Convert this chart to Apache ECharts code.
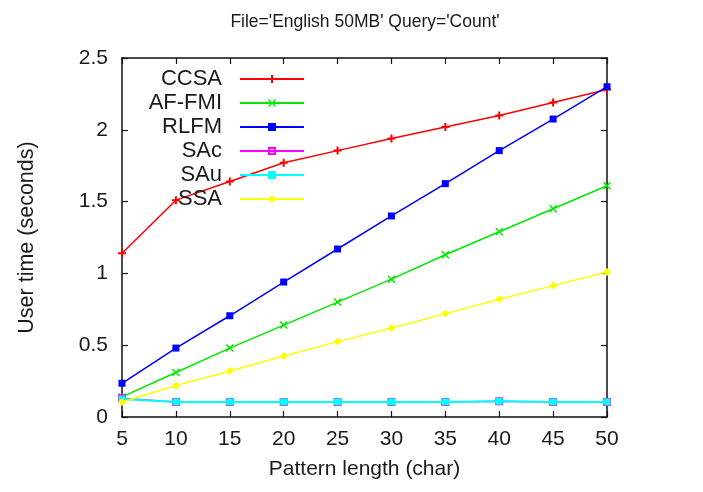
<!DOCTYPE html>
<html><head><meta charset="utf-8">
<script src="https://cdn.jsdelivr.net/npm/echarts@6/dist/echarts.min.js"></script>
<style>html,body{margin:0;padding:0;background:#fff}#c{width:703px;height:492px}</style>
</head><body><div id="c"></div>
<script>
const patternLengths = [5, 10, 15, 20, 25, 30, 35, 40, 45, 50];
const seriesNames = ['CCSA', 'AF-FMI', 'RLFM', 'SAc', 'SAu', 'SSA'];
const ccsa  = [1.14, 1.51, 1.64, 1.77, 1.855, 1.94, 2.02, 2.10, 2.19, 2.28];
const affmi = [0.14, 0.31, 0.48, 0.64, 0.80, 0.96, 1.13, 1.29, 1.45, 1.61];
const rlfm  = [0.235, 0.48, 0.705, 0.94, 1.17, 1.40, 1.625, 1.855, 2.075, 2.30];
const sac   = [0.13, 0.105, 0.105, 0.105, 0.105, 0.105, 0.105, 0.11, 0.105, 0.105];
const sau   = [0.125, 0.105, 0.105, 0.105, 0.105, 0.105, 0.105, 0.11, 0.105, 0.105];
const ssa   = [0.105, 0.22, 0.32, 0.425, 0.525, 0.62, 0.72, 0.82, 0.915, 1.01];
const yTicks = [0, 0.5, 1, 1.5, 2, 2.5];

const values = [ccsa, affmi, rlfm, sac, sau, ssa];
const colors = ['#ff0000', '#00e800', '#0000ff', '#ff00ff', '#00ffff', '#ffff00'];
const widths = [1.5, 1.5, 1.5, 1.5, 2, 1.5];
const plusPath = 'path://M3,0h2v3h3v2h-3v3h-2v-3h-3v-2h3z';
const crossPath = 'path://M1,0L4,3L7,0L8,1L5,4L8,7L7,8L4,5L1,8L0,7L3,4L0,1z';
const hollowSquare = 'path://M0,0H8V8H0Z M2,2V6H6V2Z';
const symbols = [plusPath, crossPath, 'rect', hollowSquare, 'rect', 'diamond'];
const sizes = [8, 8, 7, 8, 7, 8];

const chart = echarts.init(document.getElementById('c'));
const font = 'Liberation Sans, Arial, sans-serif';
const txt = '#1a1a1a';
const axisCommon = {
  axisLine: {show: true, onZero: false, lineStyle: {color: '#111', width: 1.5}},
  axisTick: {show: true, inside: true, length: 6, lineStyle: {color: '#111', width: 1.2}},
  splitLine: {show: false}
};
chart.setOption({
  animation: false,
  backgroundColor: '#fff',
  title: {
    text: "File='English 50MB' Query='Count'",
    left: 360, top: 8, textAlign: 'center',
    textStyle: {fontFamily: font, fontSize: 17.5, fontWeight: 'normal', color: txt}
  },
  grid: {left: 122, right: 96, top: 58, bottom: 75},
  legend: {
    orient: 'vertical', left: 132, top: 68, align: 'right', padding: 0,
    itemWidth: 64, itemHeight: 10, itemGap: 2,
    data: seriesNames,
    formatter: n => '{a|' + n + '}',
    textStyle: {fontFamily: font, fontSize: 22, color: txt,
      rich: {a: {width: 90, align: 'right', padding: [0, 13, 0, 0], lineHeight: 22, fontFamily: font, fontSize: 22, color: txt}}}
  },
  xAxis: [
    Object.assign({type: 'value', min: 5, max: 50, interval: 5, position: 'bottom',
      name: 'Pattern length (char)', nameLocation: 'middle', nameGap: 42,
      nameTextStyle: {fontFamily: font, fontSize: 21, color: txt},
      axisLabel: {fontFamily: font, fontSize: 21, color: txt, margin: 12}}, axisCommon),
    Object.assign({type: 'value', min: 5, max: 50, interval: 5, position: 'top',
      axisLabel: {show: false}}, axisCommon)
  ],
  yAxis: [
    Object.assign({type: 'value', min: yTicks[0], max: yTicks[yTicks.length - 1], interval: 0.5,
      name: 'User time (seconds)', nameLocation: 'middle', nameGap: 84, nameRotate: 90,
      nameTextStyle: {fontFamily: font, fontSize: 21.5, color: txt},
      axisLabel: {fontFamily: font, fontSize: 21, color: txt, margin: 14}}, axisCommon),
    Object.assign({type: 'value', min: yTicks[0], max: yTicks[yTicks.length - 1], interval: 0.5,
      position: 'right', axisLabel: {show: false}}, axisCommon)
  ],
  series: seriesNames.map((name, i) => ({
    name: name, type: 'line',
    data: patternLengths.map((x, j) => [x, values[i][j]]),
    symbol: symbols[i], symbolSize: sizes[i], showSymbol: true,
    lineStyle: {color: colors[i], width: widths[i]},
    itemStyle: {color: colors[i]},
    z: 2 + i
  }))
});
</script></body></html>
